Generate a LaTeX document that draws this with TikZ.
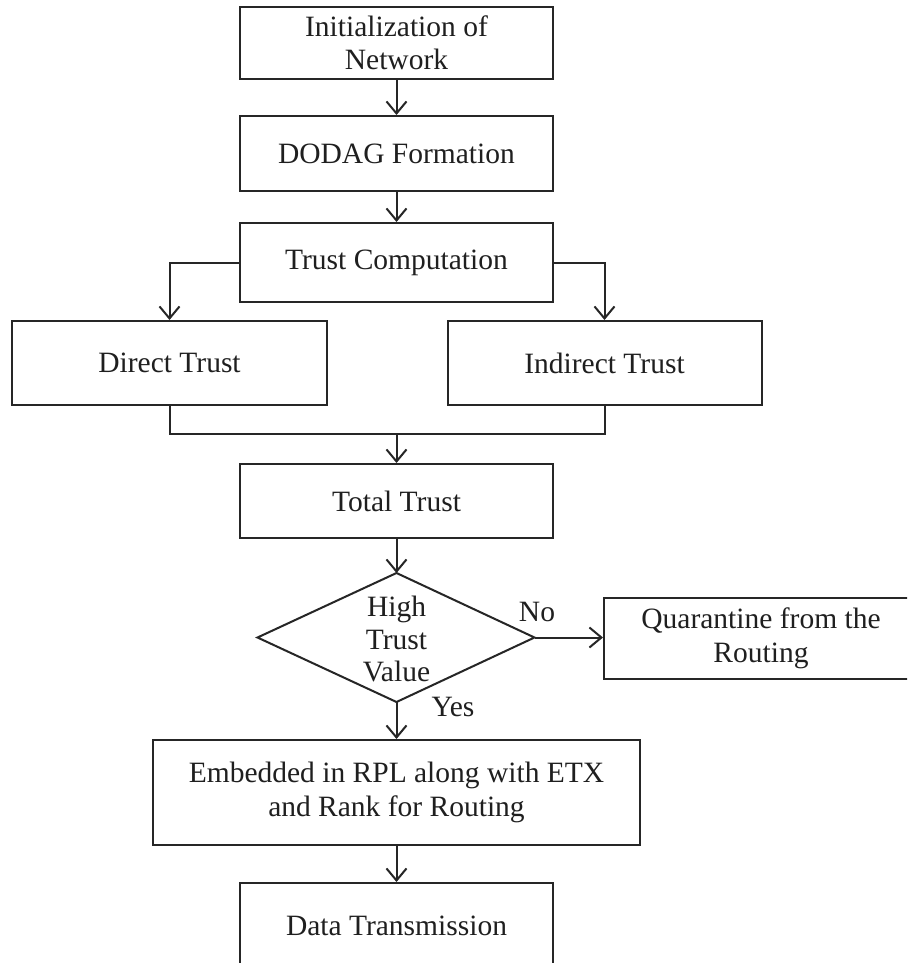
\documentclass[tikz,border=0pt]{standalone}
\usepackage{fontspec}
\setmainfont{Liberation Serif}
\usetikzlibrary{arrows.meta}

\tikzset{
  ink/.style={draw=black!85, line width=2pt},
  stepbox/.style={ink, rectangle, inner sep=0pt, align=center,
    text=black!88, font=\fontsize{29.5}{33.5}\selectfont},
  lbl/.style={inner sep=0pt, text=black!88, font=\fontsize{29.5}{33.5}\selectfont},
  flow/.style={ink, -{Straight Barb[length=12pt,width=20pt]}},
  link/.style={ink}
}

\begin{document}
\begin{tikzpicture}[x=1pt,y=-1pt]
  % page frame: everything outside is cut off
  \clip (0,0) rectangle (907,963);
  \fill[white] (0,0) rectangle (907,963);

  % process boxes
  \node[stepbox, minimum width=313pt, minimum height=72pt] (init) at (396.5,43) {Initialization of\\Network};
  \node[stepbox, minimum width=313pt, minimum height=75pt] (dodag) at (396.5,153.5) {DODAG Formation};
  \node[stepbox, minimum width=313pt, minimum height=79pt] (tc) at (396.5,262.5) {Trust Computation};
  \node[stepbox, minimum width=315pt, minimum height=84pt] (direct) at (169.5,363) {Direct Trust};
  \node[stepbox, minimum width=314pt, minimum height=84pt] (indirect) at (604.5,363) {Indirect Trust};
  \node[stepbox, minimum width=313pt, minimum height=74pt] (total) at (396.5,501) {Total Trust};
  \node[stepbox, minimum width=314pt, minimum height=81pt] (quar) at (761,638.5) {Quarantine from the\\Routing};
  \node[stepbox, minimum width=487pt, minimum height=105pt] (embed) at (396.5,792.5) {Embedded in RPL along with ETX\\and Rank for Routing};
  \node[stepbox, minimum width=313pt, minimum height=86pt] (data) at (396.5,926) {Data Transmission};

  % decision
  \coordinate (dtop) at (396.5,573);
  \coordinate (dright) at (534.5,637.5);
  \coordinate (dbottom) at (396.5,702);
  \coordinate (dleft) at (257.5,637.5);
  \draw[ink, line join=miter] (dtop) -- (dright) -- (dbottom) -- (dleft) -- cycle;
  \node[lbl, align=center, font=\fontsize{29.5}{32.5}\selectfont] (dec) at (396.5,639) {High\\Trust\\Value};

  % branch labels
  \node[lbl] (no) at (537,612) {No};
  \node[lbl] (yes) at (453,707) {Yes};

  % connectors
  \draw[flow] (init) -- (dodag);
  \draw[flow] (dodag) -- (tc);
  \draw[flow] (tc.west) -| (direct.north);
  \draw[flow] (tc.east) -| (indirect.north);
  \coordinate (join) at (396.5,434);
  \draw[link] (direct.south) |- (join) -| (indirect.south);
  \draw[flow] (join) -- (total.north);
  \draw[flow] (total.south) -- (dtop);
  \draw[flow] (dright) -- (dright -| quar.west);
  \draw[flow] (dbottom) -- (embed.north);
  \draw[flow] (embed.south) -- (data.north);
\end{tikzpicture}
\end{document}
